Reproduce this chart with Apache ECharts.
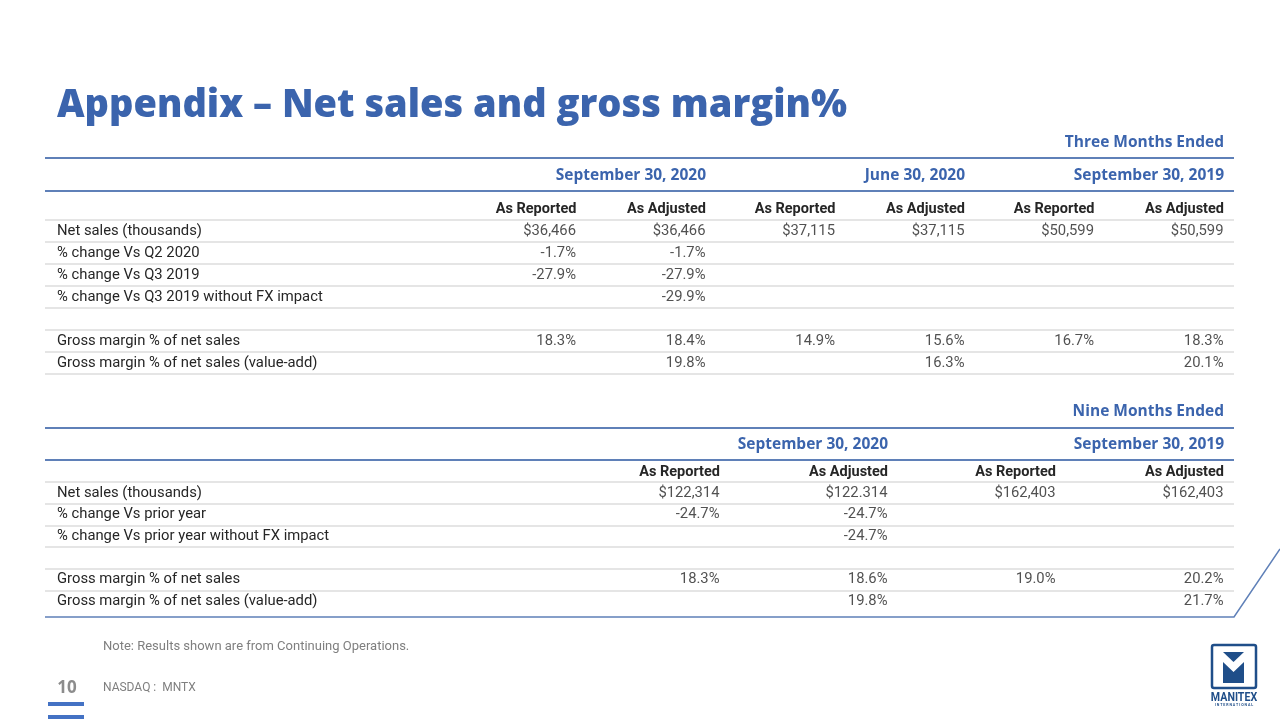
<!DOCTYPE html>
<html><head><meta charset="utf-8">
<script src="https://cdn.jsdelivr.net/npm/echarts@6/dist/echarts.min.js"></script>
<style>html,body{margin:0;padding:0;background:#fff}#c{width:1280px;height:720px}</style>
</head><body><div id="c"></div>
<script>
// ---------- data ----------
const slideTitle = 'Appendix – Net sales and gross margin%';
const noteText = 'Note: Results shown are from Continuing Operations.';
const tickerText = 'NASDAQ :  MNTX';
const pageNumber = '10';

const q_period = 'Three Months Ended';
const q_dates = ['September 30, 2020', 'June 30, 2020', 'September 30, 2019'];
const q_cols = ['As Reported', 'As Adjusted', 'As Reported', 'As Adjusted', 'As Reported', 'As Adjusted'];
const q_rows = ['Net sales (thousands)', '% change Vs Q2 2020', '% change Vs Q3 2019',
  '% change Vs Q3 2019 without FX impact', '', 'Gross margin % of net sales',
  'Gross margin % of net sales (value-add)'];
const q_netSales = ['$36,466', '$36,466', '$37,115', '$37,115', '$50,599', '$50,599'];
const q_chgQ2 = ['-1.7%', '-1.7%', '', '', '', ''];
const q_chgQ3 = ['-27.9%', '-27.9%', '', '', '', ''];
const q_chgFx = ['', '-29.9%', '', '', '', ''];
const q_blank = ['', '', '', '', '', ''];
const q_gm = ['18.3%', '18.4%', '14.9%', '15.6%', '16.7%', '18.3%'];
const q_gmVA = ['', '19.8%', '', '16.3%', '', '20.1%'];

const n_period = 'Nine Months Ended';
const n_dates = ['September 30, 2020', 'September 30, 2019'];
const n_cols = ['As Reported', 'As Adjusted', 'As Reported', 'As Adjusted'];
const n_rows = ['Net sales (thousands)', '% change Vs prior year',
  '% change Vs prior year without FX impact', '', 'Gross margin % of net sales',
  'Gross margin % of net sales (value-add)'];
const n_netSales = ['$122,314', '$122.314', '$162,403', '$162,403'];
const n_chg = ['-24.7%', '-24.7%', '', ''];
const n_chgFx = ['', '-24.7%', '', ''];
const n_blank = ['', '', '', ''];
const n_gm = ['18.3%', '18.6%', '19.0%', '20.2%'];
const n_gmVA = ['', '19.8%', '', '21.7%'];

// ---------- layout / style ----------
const L = 45, R = 1234, LASTCOL = 1224;
const BLUE = '#3b64ad', RULE = '#5f80b8', GRID = '#dcdcdc', TXT = '#262626', NAVY = '#1f4e89';
const BODY = 'Roboto, "Liberation Sans", sans-serif';
const HEAD = '"Open Sans", "DejaVu Sans", sans-serif';
const FS = 14.8;

function cells(rows) {
  const d = [];
  rows.forEach((vals, r) => vals.forEach((v, c) => { if (v !== '') d.push([c + 1, r, v]); }));
  return d;
}
function xRange(n, unit) {
  return { min: n - (LASTCOL - L) / unit, max: n + (R - LASTCOL) / unit };
}
const qx = xRange(q_cols.length, 129.5);
const nx = xRange(n_cols.length, 168);

function yAx(gi, rows, showMax) {
  return {
    type: 'category', gridIndex: gi, data: rows, inverse: true,
    axisLine: { show: false }, axisTick: { show: false },
    axisLabel: { inside: true, margin: 12, color: TXT, fontFamily: BODY, fontSize: FS },
    splitLine: { show: true, showMinLine: true, showMaxLine: showMax, lineStyle: { color: GRID, width: 1.5 } }
  };
}
function cellSeries(gi, data) {
  return {
    type: 'scatter', xAxisIndex: gi, yAxisIndex: gi, data: data, symbolSize: 1,
    itemStyle: { color: 'rgba(0,0,0,0)' }, silent: true,
    label: { show: true, position: 'left', distance: 0, formatter: p => p.value[2],
      color: TXT, fontFamily: BODY, fontSize: FS }
  };
}

const chart = echarts.init(document.getElementById('c'));
chart.setOption({
  animation: false,
  backgroundColor: '#ffffff',
  grid: [
    { left: L, right: 1280 - R, top: 220, height: 154 },
    { left: L, right: 1280 - R, top: 482, height: 130 }
  ],
  xAxis: [
    { type: 'value', gridIndex: 0, min: qx.min, max: qx.max, show: false },
    { type: 'value', gridIndex: 1, min: nx.min, max: nx.max, show: false }
  ],
  yAxis: [yAx(0, q_rows, true), yAx(1, n_rows, false)],
  series: [
    cellSeries(0, cells([q_netSales, q_chgQ2, q_chgQ3, q_chgFx, q_blank, q_gm, q_gmVA])),
    cellSeries(1, cells([n_netSales, n_chg, n_chgFx, n_blank, n_gm, n_gmVA]))
  ]
});

// headers placed through the axes' scales
const g = [];
function txt(text, x, y, o) {
  g.push({ type: 'text', x: x, y: y, silent: true, style: Object.assign({
    text: text, align: 'right', verticalAlign: 'middle', fill: TXT,
    fontFamily: BODY, fontSize: FS }, o || {}) });
}
function hline(y, color, w) {
  g.push({ type: 'line', silent: true, shape: { x1: L, y1: y, x2: R, y2: y }, style: { stroke: color, lineWidth: w } });
}
function header(axisIdx, cols, dates, period, yPeriod, yRule1, yDates, yRule2, ySub) {
  const px = k => chart.convertToPixel({ xAxisIndex: axisIdx }, k);
  txt(period, px(cols.length), yPeriod, { fill: BLUE, fontFamily: HEAD, fontWeight: 'bold', fontSize: 15.5 });
  hline(yRule1, RULE, 2);
  dates.forEach((d, i) => {
    const k = (i + 1) * cols.length / dates.length;
    txt(d, px(k), yDates, { fill: BLUE, fontFamily: HEAD, fontWeight: 'bold', fontSize: 15.5 });
  });
  hline(yRule2, RULE, 2);
  cols.forEach((c, i) => txt(c, px(i + 1), ySub, { fontWeight: 'bold', fontSize: 14.5 }));
}
header(0, q_cols, q_dates, q_period, 143, 158, 176, 191, 209);
header(1, n_cols, n_dates, n_period, 412, 428, 445, 460, 472);

// bottom rule with diagonal
g.push({ type: 'polyline', silent: true, shape: { points: [[L, 617], [R, 617], [1280, 549]] },
  style: { stroke: RULE, lineWidth: 1.5, fill: null } });

// title and footer
txt(slideTitle, 57, 106, { align: 'left', fill: BLUE, fontFamily: HEAD, fontWeight: 800, fontSize: 38 });
txt(noteText, 103, 647, { align: 'left', fill: '#7f7f7f', fontSize: 13 });
txt(tickerText, 103, 688, { align: 'left', fill: '#7f7f7f', fontSize: 12 });
txt(pageNumber, 67, 688, { align: 'center', fill: '#8c8c8c', fontFamily: HEAD, fontWeight: 'bold', fontSize: 17 });
g.push({ type: 'rect', silent: true, shape: { x: 48, y: 702, width: 36, height: 4 }, style: { fill: '#4472c4' } });
g.push({ type: 'rect', silent: true, shape: { x: 48, y: 715, width: 36, height: 4 }, style: { fill: '#4472c4' } });

// logo
g.push({ type: 'rect', silent: true, shape: { x: 1212, y: 645, width: 44, height: 43, r: 2 },
  style: { fill: '#fff', stroke: NAVY, lineWidth: 2.5 } });
g.push({ type: 'polygon', silent: true, shape: { points: [[1223, 652], [1244, 652], [1233.5, 662]] }, style: { fill: NAVY } });
g.push({ type: 'polygon', silent: true, shape: { points: [[1223, 662], [1233.5, 672], [1244, 662], [1244, 683], [1223, 683]] }, style: { fill: NAVY } });
g.push({ type: 'text', silent: true, x: 1234, y: 698, scaleX: 0.85, style: { text: 'MANITEX', align: 'center', verticalAlign: 'middle',
  fill: NAVY, fontFamily: BODY, fontWeight: 'bold', fontSize: 12.5 } });
g.push({ type: 'text', silent: true, x: 1234, y: 705.5, style: { text: 'I N T E R N A T I O N A L', align: 'center', verticalAlign: 'middle',
  fill: NAVY, fontFamily: BODY, fontWeight: 'bold', fontSize: 3.6 } });

chart.setOption({ graphic: g });
</script>
</body></html>
